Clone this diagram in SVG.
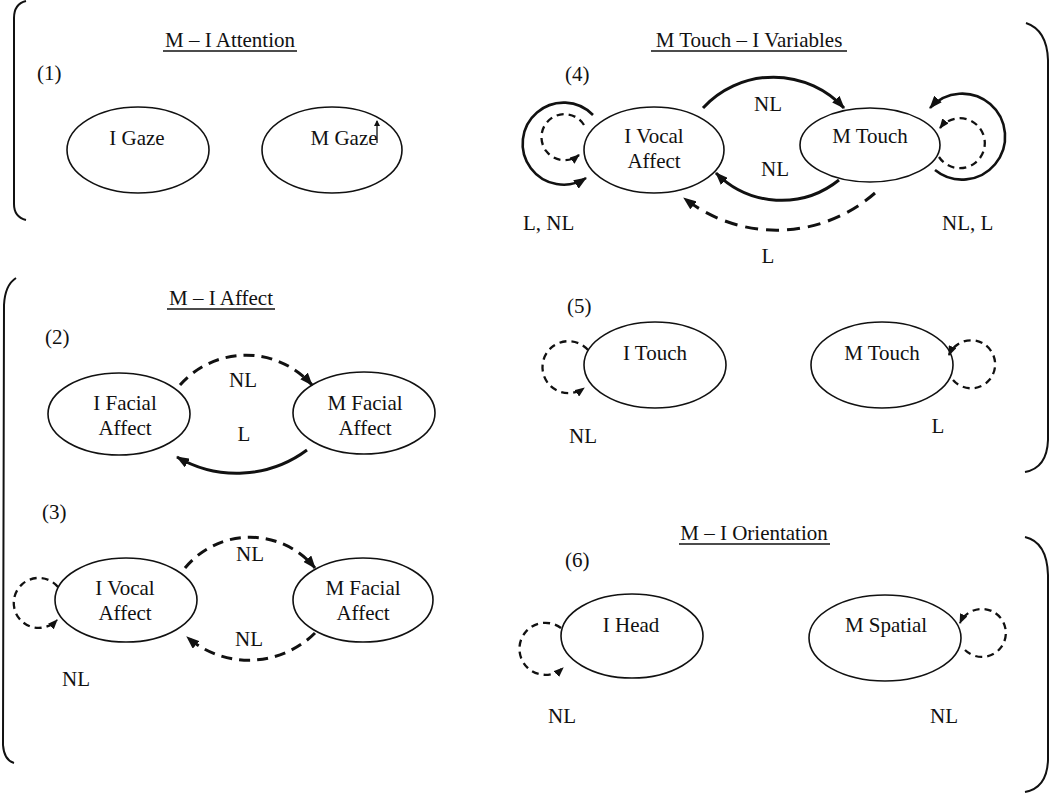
<svg xmlns="http://www.w3.org/2000/svg" width="1050" height="794" viewBox="0 0 1050 794">
<style>
text{font-family:"Liberation Serif","Times New Roman",serif;font-size:21px;fill:#111}
.c{text-anchor:middle}
.node ellipse{fill:#fff;stroke:#111;stroke-width:1.6}
.br{fill:none;stroke:#111;stroke-width:2}
.ul{stroke:#111;stroke-width:1.3}
.sol{fill:none;stroke:#111;stroke-width:3}
.dsh{fill:none;stroke:#111;stroke-width:3;stroke-dasharray:11 7}
.lp{fill:none;stroke:#111;stroke-width:2.3;stroke-dasharray:7 5}
.lps{fill:none;stroke:#111;stroke-width:2.6}
</style>
<defs>
<marker id="ah" viewBox="0 0 13 10" refX="12" refY="5" markerWidth="13" markerHeight="10" markerUnits="userSpaceOnUse" orient="auto"><path d="M0,0 L13,5 L0,10 z" fill="#111"/></marker>
<marker id="ahs" viewBox="0 0 10 8" refX="9" refY="4" markerWidth="10" markerHeight="8" markerUnits="userSpaceOnUse" orient="auto"><path d="M0,0 L10,4 L0,8 z" fill="#111"/></marker>
<marker id="aht" viewBox="0 0 6 6" refX="5" refY="3" markerWidth="6" markerHeight="6" markerUnits="userSpaceOnUse" orient="auto"><path d="M0,0 L6,3 L0,6 z" fill="#111"/></marker>
</defs>
<rect width="1050" height="794" fill="#fff"/>

<g id="brackets">
<path class="br" d="M26,1 Q14,4 14,18 L14,204 Q14,217 26,220"/>
<path class="br" d="M16,278 Q5,285 4,305 L3,745 Q4,760 14,763"/>
<path class="br" d="M1026,23 Q1047,30 1048,60 L1048,440 Q1047,468 1025,472"/>
<path class="br" d="M1025,537 Q1047,542 1048,575 L1048,760 Q1047,788 1025,792"/>
</g>

<g id="titles">
<text class="c" x="230" y="47">M – I Attention</text>
<line class="ul" x1="163" y1="51" x2="297" y2="51"/>
<text class="c" x="221" y="305">M – I Affect</text>
<line class="ul" x1="167" y1="309" x2="275" y2="309"/>
<text class="c" x="749" y="47">M Touch – I Variables</text>
<line class="ul" x1="651" y1="51" x2="847" y2="51"/>
<text class="c" x="754" y="540">M – I Orientation</text>
<line class="ul" x1="679" y1="544" x2="830" y2="544"/>
<text x="37" y="80">(1)</text>
<text x="45" y="344">(2)</text>
<text x="42" y="519">(3)</text>
<text x="565" y="81">(4)</text>
<text x="567" y="313">(5)</text>
<text x="565" y="567">(6)</text>
</g>

<g id="n1-igaze" class="node"><ellipse cx="138" cy="150" rx="71" ry="43"/><text class="c" x="137" y="145">I Gaze</text></g>
<g id="n1-mgaze" class="node"><ellipse cx="332" cy="150" rx="70" ry="43"/><text class="c" x="344" y="145">M Gaze</text></g>

<g id="n2-ifacial" class="node"><ellipse cx="119" cy="414" rx="71" ry="41"/><text class="c" x="125" y="410">I Facial</text><text class="c" x="125" y="435">Affect</text></g>
<g id="n2-mfacial" class="node"><ellipse cx="364" cy="413" rx="71" ry="41"/><text class="c" x="365" y="410">M Facial</text><text class="c" x="365" y="435">Affect</text></g>

<g id="n3-ivocal" class="node"><ellipse cx="126" cy="600" rx="71" ry="42"/><text class="c" x="125" y="595">I Vocal</text><text class="c" x="125" y="620">Affect</text></g>
<g id="n3-mfacial" class="node"><ellipse cx="363" cy="600" rx="70" ry="42"/><text class="c" x="363" y="595">M Facial</text><text class="c" x="363" y="620">Affect</text></g>

<g id="n4-ivocal" class="node"><ellipse cx="654" cy="150" rx="70" ry="43"/><text class="c" x="654" y="143">I Vocal</text><text class="c" x="654" y="168">Affect</text></g>
<g id="n4-mtouch" class="node"><ellipse cx="870" cy="145" rx="70" ry="37"/><text class="c" x="870" y="143">M Touch</text></g>

<g id="n5-itouch" class="node"><ellipse cx="655" cy="365" rx="71" ry="43"/><text class="c" x="655" y="360">I Touch</text></g>
<g id="n5-mtouch" class="node"><ellipse cx="882" cy="365" rx="71" ry="43"/><text class="c" x="882" y="360">M Touch</text></g>

<g id="n6-ihead" class="node"><ellipse cx="632" cy="636" rx="71" ry="42"/><text class="c" x="631" y="632">I Head</text></g>
<g id="n6-mspatial" class="node"><ellipse cx="885" cy="638" rx="76" ry="43"/><text class="c" x="886" y="632">M Spatial</text></g>

<g id="connectors">
<path d="M377,143 L377,121" stroke="#111" stroke-width="1.3" fill="none" marker-end="url(#aht)"/>
<!-- panel 2 -->
<path class="dsh" d="M180,385 A88,88 0 0 1 312,385" marker-end="url(#ah)"/>
<path class="sol" d="M307,450 A118,118 0 0 1 177,457" marker-end="url(#ah)"/>
<!-- panel 3 -->
<path class="dsh" d="M185,568 A84,84 0 0 1 315,568" marker-end="url(#ah)"/>
<path class="dsh" d="M315,633 A94,94 0 0 1 187,637" marker-end="url(#ah)"/>
<path class="lp" d="M58,587 A25,25 0 1 0 57,620" marker-end="url(#ahs)"/>
<!-- panel 4 -->
<path class="sol" d="M703,108 A96,96 0 0 1 844,108" marker-end="url(#ah)"/>
<path class="sol" d="M839,180 A92,92 0 0 1 716,173" marker-end="url(#ah)"/>
<path class="dsh" d="M875,193 A149,149 0 0 1 684,198" marker-end="url(#ah)" style="stroke-dasharray:13 8"/>
<path class="lps" d="M593,115 A41,41 0 1 0 586,178" marker-end="url(#ah)"/>
<path class="lp" d="M584,125 A23,23 0 1 0 579,155" marker-end="url(#ahs)"/>
<path class="lps" d="M935,170 A43,43 0 1 0 930,108" marker-end="url(#ah)"/>
<path class="lp" d="M939,157 A25,25 0 1 0 940,128" marker-end="url(#ahs)"/>
<!-- panel 5 -->
<path class="lp" d="M588,350 A26,26 0 1 0 584,388" marker-end="url(#ahs)"/>
<path class="lp" d="M953,380 A24,24 0 1 0 949,355" marker-end="url(#ahs)"/>
<!-- panel 6 -->
<path class="lp" d="M561,628 A26,26 0 1 0 563,668" marker-end="url(#ahs)"/>
<path class="lp" d="M965,650 A24,24 0 1 0 960,623" marker-end="url(#ahs)"/>
</g>

<g id="labels">
<text class="c" x="243" y="387">NL</text>
<text class="c" x="244" y="441">L</text>
<text class="c" x="250" y="561">NL</text>
<text class="c" x="249" y="646">NL</text>
<text class="c" x="76" y="686">NL</text>
<text class="c" x="768" y="111">NL</text>
<text class="c" x="775" y="176">NL</text>
<text class="c" x="768" y="263">L</text>
<text x="523" y="230">L, NL</text>
<text x="942" y="230">NL, L</text>
<text class="c" x="583" y="443">NL</text>
<text class="c" x="938" y="433">L</text>
<text class="c" x="562" y="723">NL</text>
<text class="c" x="944" y="723">NL</text>
</g>
</svg>
